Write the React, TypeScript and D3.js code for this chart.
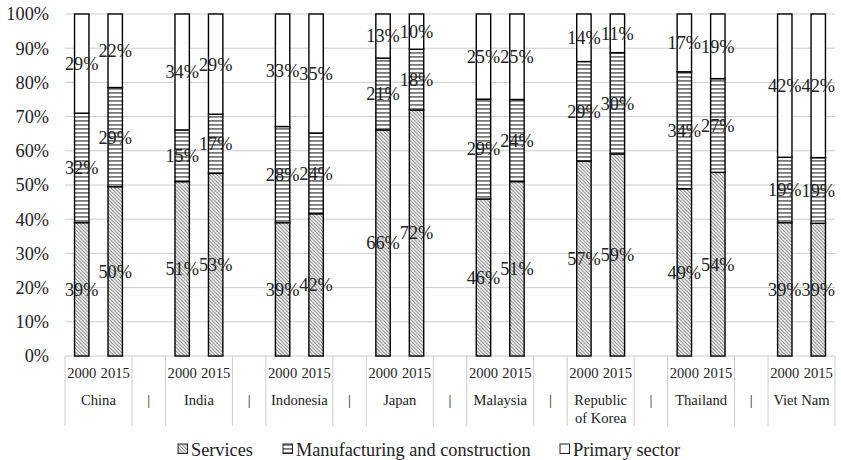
import React from 'react';
import * as d3 from 'd3';

const countries = ['China', 'India', 'Indonesia', 'Japan', 'Malaysia', 'Republic of Korea', 'Thailand', 'Viet Nam'];
const countryLines = [['China'], ['India'], ['Indonesia'], ['Japan'], ['Malaysia'], ['Republic', 'of Korea'], ['Thailand'], ['Viet Nam']];
const years = ['2000', '2015'];
const servicesValues = [[39, 49.5], [51, 53.4], [39, 41.6], [66.1, 71.9], [45.9, 51], [57, 59.1], [48.9, 53.7], [39, 38.8]];
const manufacturingValues = [[32, 29], [15.1, 17.3], [28.1, 23.6], [21, 17.8], [29.2, 24], [29.1, 29.6], [34.2, 27.4], [19.1, 19.2]];
const primaryValues = [[29, 21.5], [33.9, 29.3], [32.9, 34.8], [12.9, 10.3], [24.9, 25], [13.9, 11.3], [16.9, 18.9], [41.9, 42]];
const seriesNames = ['Services', 'Manufacturing and construction', 'Primary sector'];
const yTicks = [0, 0.1, 0.2, 0.3, 0.4, 0.5, 0.6, 0.7, 0.8, 0.9, 1];

const FONT = 'Liberation Serif, Times New Roman, serif';

export default function App() {
  const slots: string[] = [];
  countries.forEach((c, i) => {
    years.forEach((yr) => slots.push(`${c}|${yr}`));
    if (i < countries.length - 1) slots.push(`sep${i}`);
  });
  const x = d3.scaleBand<string>().domain(slots).range([65, 835]).padding(0);
  const y = d3.scaleLinear().domain([0, 1]).range([356, 14]);
  const bw = x.bandwidth() * 0.43;
  const fmt = d3.format('.0%');
  const fills = ['url(#pServices)', 'url(#pManuf)', '#ffffff'];
  const seriesValues = [servicesValues, manufacturingValues, primaryValues];

  const boundaries: number[] = [];
  countries.forEach((c, i) => {
    boundaries.push(x(`${c}|2000`)!);
    if (i < countries.length - 1) boundaries.push(x(`sep${i}`)!);
  });
  boundaries.push(835);

  const bars: React.ReactNode[] = [];
  const labels: React.ReactNode[] = [];
  countries.forEach((c, ci) => {
    years.forEach((yr, yi) => {
      const cx = x(`${c}|${yr}`)! + x.bandwidth() / 2;
      const row = { s: servicesValues[ci][yi], m: manufacturingValues[ci][yi], p: primaryValues[ci][yi] };
      const total = row.s + row.m + row.p;
      const stack = d3.stack<any>().keys(['s', 'm', 'p'])([row]);
      stack.forEach((layer, si) => {
        const [a, b] = layer[0];
        const y0 = y(a / total);
        const y1 = y(b / total);
        bars.push(
          <rect key={`${c}${yr}${si}`} x={cx - bw / 2} y={y1} width={bw} height={y0 - y1}
            fill={fills[si]} stroke="#000" strokeWidth={1.4} />
        );
        labels.push(
          <text key={`l${c}${yr}${si}`} x={cx} y={(y0 + y1) / 2} dy="0.35em" textAnchor="middle"
            fontSize={18.3} fill="#222">{fmt(Math.round(seriesValues[si][ci][yi]) / 100)}</text>
        );
      });
    });
  });

  const legendItems = [
    { x: 178, tx: 191 },
    { x: 283, tx: 296 },
    { x: 560, tx: 573 },
  ];

  return (
    <svg width={841} height={460} fontFamily={FONT} style={{ position: 'absolute', left: 0, top: 0 }}>
      <defs>
        <pattern id="pServices" patternUnits="userSpaceOnUse" width={3.5} height={3.5}>
          <rect width={3.5} height={3.5} fill="#fff" />
          <path d="M-1,-1 L4.5,4.5 M-1,2.5 L1,4.5 M2.5,-1 L4.5,1" stroke="#707070" strokeWidth={0.9} />
        </pattern>
        <pattern id="pManuf" patternUnits="userSpaceOnUse" width={4} height={4}>
          <rect width={4} height={4} fill="#fff" />
          <rect y={0} width={4} height={1.8} fill="#7a7a7a" />
        </pattern>
      </defs>
      <rect width={841} height={460} fill="#fff" />
      {yTicks.map((t) => (
        <g key={t}>
          <line x1={65} x2={835} y1={y(t)} y2={y(t)} stroke="#cccccc" strokeWidth={1} />
          <text x={49} y={y(t)} dy="0.35em" textAnchor="end" fontSize={18.3} fill="#222">{fmt(t)}</text>
        </g>
      ))}
      {boundaries.map((b, i) => (
        <line key={i} x1={b} x2={b} y1={356} y2={426} stroke="#cccccc" strokeWidth={1} />
      ))}
      {bars}
      {labels}
      {countries.map((c, ci) => (
        <g key={c}>
          {years.map((yr) => (
            <text key={yr} x={x(`${c}|${yr}`)! + x.bandwidth() / 2} y={378} textAnchor="middle" fontSize={14.6} fill="#222">{yr}</text>
          ))}
          {countryLines[ci].map((ln, li) => (
            <text key={li} x={x(`${c}|2015`)!} y={405 + li * 18} textAnchor="middle" fontSize={14.6} fill="#222">{ln}</text>
          ))}
          {ci < countries.length - 1 && (
            <text x={x(`sep${ci}`)! + x.bandwidth() / 2} y={405} textAnchor="middle" fontSize={14.6} fill="#222">|</text>
          )}
        </g>
      ))}
      {seriesNames.map((s, i) => (
        <g key={s}>
          <rect x={legendItems[i].x} y={444} width={9.5} height={9.5} fill={fills[i]} stroke="#222" strokeWidth={1} />
          <text x={legendItems[i].tx} y={456} fontSize={18.3} fill="#222">{s}</text>
        </g>
      ))}
    </svg>
  );
}
